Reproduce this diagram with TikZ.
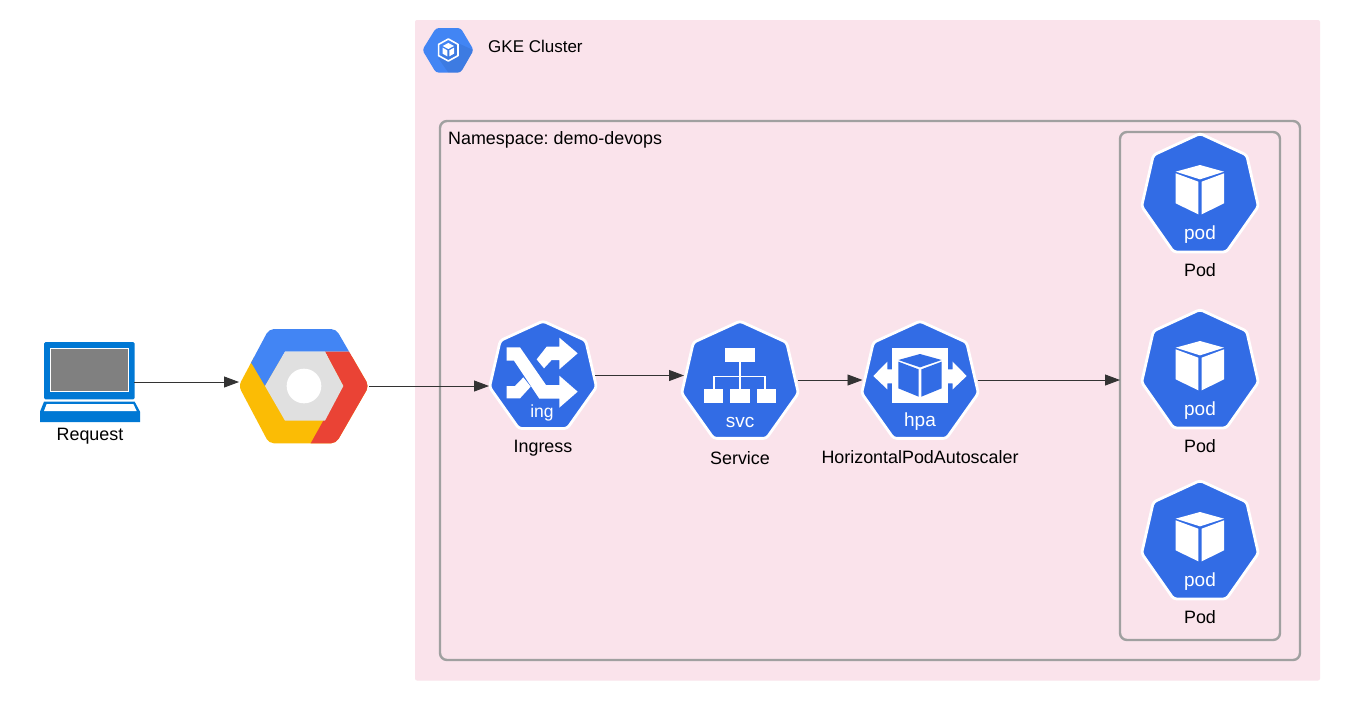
\documentclass[tikz,border=0pt]{standalone}
\usepackage{fontspec}
\setmainfont{Liberation Sans}
\usetikzlibrary{arrows.meta}
\definecolor{kube}{HTML}{326CE5}
\definecolor{clusterbg}{HTML}{FAE3EB}
\definecolor{framegray}{HTML}{A0A0A0}
\definecolor{gblue}{HTML}{4285F4}
\definecolor{gyellow}{HTML}{FBBC05}
\definecolor{gred}{HTML}{EA4335}
\definecolor{ggray}{HTML}{E0E0E0}
\definecolor{msblue}{HTML}{0078D4}
\definecolor{arrowdark}{HTML}{333333}
\tikzset{
  lbl/.style={font=\fontsize{17.9}{20}\selectfont\frenchspacing,text=black,inner sep=0pt},
  kubetxt/.style={font=\fontsize{19}{20}\selectfont,text=white,inner sep=0pt},
  frame/.style={draw=framegray,line width=2.4pt,rounded corners=7pt},
  flow/.style={draw=arrowdark,line width=0.9pt,-{Triangle[length=15pt,width=11pt]}},
  anchorbox/.style={inner sep=0pt,outer sep=0pt,minimum width=#1},
}
% heptagon: arg1 x, arg2 y (centre), arg3 xscale, arg4 yscale
\newcommand{\kubehept}[4]{%
  \filldraw[shift={(#1,#2)},xscale=#3,yscale=#4,fill=kube,draw=white,line width=2.8pt,line join=round,rounded corners=3pt]
    (0,-58) -- (46,-37) -- (57.5,13) -- (26,57.5) -- (-26,57.5) -- (-57.5,13) -- (-46,-37) -- cycle;}
% pod cube in zoom coordinates
\newcommand{\podicon}[3]{%
  \kubehept{1200}{#1}{1.015}{1.025}
  \begin{scope}[shift={(1110,#1-73)},scale=1/3,fill=white]
    \fill (197,155) -- (270,135) -- (342,155) -- (270,178) -- cycle;
    \fill (197,160) -- (265,185) -- (265,283) -- (197,250) -- cycle;
    \fill (275,185) -- (342,160) -- (342,250) -- (275,283) -- cycle;
  \end{scope}
  \node[kubetxt] at (1200,#1+41.5) {pod};
  \node[lbl] (#2) at (1200,#1+77) {Pod};
  \node[anchorbox=0pt,minimum height=0pt] (#3) at (1200,#1) {};
}
\begin{document}
\begin{tikzpicture}[x=1pt,y=-1pt]
\useasboundingbox (0,0) rectangle (1362,716);
\fill[white] (0,0) rectangle (1362,716);

% cluster
\fill[clusterbg,rounded corners=2pt] (415,20) rectangle (1320,680.5);
\draw[frame] (440,121) rectangle (1300,660);
\draw[frame] (1120,132) rectangle (1280,640);
\node[lbl,anchor=west,font=\fontsize{17}{20}\selectfont] (gkelabel) at (488,46.5) {GKE Cluster};
\node[lbl,anchor=west] (nslabel) at (448,140) {Namespace: demo-devops};

% GKE icon
\begin{scope}[shift={(410,15)},scale=1/3]
  \begin{scope}
    \clip[rounded corners=3pt] (78,39) -- (152,39) -- (191,105) -- (152,173) -- (78,173) -- (37,105) -- cycle;
    \fill[gblue] (30,30) rectangle (200,180);
    \fill[black,opacity=0.07] (135,80) -- (200,110) -- (200,180) -- (120,180) -- (85,130) -- cycle;
    \draw[white,line width=1.6pt,line join=round] (115,72) -- (144,88) -- (144,122) -- (115,138) -- (86,122) -- (86,88) -- cycle;
    \fill[white] (115,84) -- (132,93) -- (115,102) -- (98,93) -- cycle;
    \fill[white] (98,98) -- (112,106) -- (112,124) -- (98,116) -- cycle;
    \fill[white] (132,98) -- (118,106) -- (118,124) -- (132,116) -- cycle;
  \end{scope}
\end{scope}

% laptop
\node[anchorbox=100pt,minimum height=80pt] (request) at (90,382) {};
\begin{scope}[shift={(20,310)},scale=1/3]
  \fill[msblue,rounded corners=1.5pt] (72,96) rectangle (344,268);
  \fill[white] (90,113) rectangle (328,245);
  \fill[gray] (93,117) rectangle (325,242);
  \fill[msblue] (72,275) -- (344,275) -- (360,305) -- (360,336) -- (60,336) -- (60,305) -- cycle;
  \fill[white] (80,282) -- (340,282) -- (350,303) -- (72,303) -- cycle;
\end{scope}
\node[lbl] (requestlabel) at (90,436) {Request};

% Google Cloud logo
\node[anchorbox=130pt,minimum height=114pt] (gcp) at (304,386) {};
\begin{scope}[shift={(20,310)},scale=1/3]
  \begin{scope}
    \clip[rounded corners=5pt] (747,57) -- (948,57) -- (1047,228) -- (948,400) -- (747,400) -- (656,228) -- cycle;
    \fill[gyellow] (640,140) rectangle (1060,410);
    \fill[gblue] (695,160) -- (735,228) -- (795,125) -- (990,125) -- (1000,40) -- (730,40) -- (640,160) -- cycle;
    \fill[gred] (915,125) -- (990,125) -- (1060,228) -- (1060,410) -- (872,410) -- (872,400) -- (910,332) -- (970,228) -- cycle;
  \end{scope}
  \fill[ggray] (795,125) -- (915,125) -- (970,228) -- (915,332) -- (795,332) -- (735,228) -- cycle;
  \fill[white] (852,228) circle (52);
\end{scope}

% Ingress
\kubehept{543}{375}{0.93}{0.93}
\node[anchorbox=106pt,minimum height=108pt] (ing) at (542,375) {};
\begin{scope}[shift={(470,310)},scale=1/3,fill=white]
  \fill (110,112) -- (150,112) -- (228,225) -- (268,225) -- (268,197) -- (323,245) -- (268,293) -- (268,266) -- (208,266) -- (132,152) -- (110,152) -- cycle;
  \fill (323,130) -- (268,83) -- (268,110) -- (230,110) -- (200,148) -- (222,175) -- (245,150) -- (268,150) -- (268,178) -- cycle;
  \fill (110,228) -- (135,228) -- (160,202) -- (182,230) -- (150,265) -- (110,265) -- cycle;
\end{scope}
\node[kubetxt,font=\fontsize{17.5}{20}\selectfont] at (542,413) {ing};
\node[lbl] (inglabel) at (543,448) {Ingress};

% Service
\kubehept{740}{380}{1.015}{1.015}
\node[anchorbox=114pt,minimum height=116pt] (svc) at (741,380) {};
\fill[white] (725,347.7) rectangle (755,362.3);
\fill[white] (704,389.3) rectangle (722.7,402.7);
\fill[white] (730,389.3) rectangle (750,402.7);
\fill[white] (757,389.3) rectangle (776,402.7);
\draw[white,line width=1.4pt] (740,362) -- (740,389.5);
\draw[white,line width=1.4pt] (714,389.5) -- (714,376.7) -- (765,376.7) -- (765,389.5);
\node[kubetxt] at (740,422) {svc};
\node[lbl] (svclabel) at (740,458.5) {Service};

% HPA
\kubehept{920}{380}{1.015}{1.015}
\node[anchorbox=115pt,minimum height=116pt] (hpa) at (920,380) {};
\begin{scope}[shift={(810,310)},scale=1/3]
  \fill[white] (246,113) rectangle (414,278);
  \fill[kube] (265,150) -- (330,132) -- (395,150) -- (330,172) -- cycle;
  \fill[kube] (265,155) -- (326,178) -- (326,260) -- (265,235) -- cycle;
  \fill[kube] (334,178) -- (395,155) -- (395,235) -- (334,260) -- cycle;
  \fill[white] (190,198) -- (232,155) -- (232,178) -- (250,178) -- (250,220) -- (232,220) -- (232,238) -- cycle;
  \fill[white] (470,198) -- (428,155) -- (428,178) -- (410,178) -- (410,220) -- (428,220) -- (428,238) -- cycle;
\end{scope}
\node[kubetxt] at (920,422) {hpa};
\node[lbl] (hpalabel) at (920,457.5) {HorizontalPodAutoscaler};

% Pods
\podicon{193}{podlabela}{poda}
\podicon{369}{podlabelb}{podb}
\podicon{540}{podlabelc}{podc}
\node[inner sep=0pt,outer sep=0pt,minimum width=160pt,minimum height=508pt] (podgroup) at (1200,386) {};

% connectors
\draw[flow] (request.east |- 0,382) ++(-6,0) -- (gcp.west |- 0,382);
\draw[flow] (gcp.east) -- (ing.west |- gcp.east);
\draw[flow] ([yshift=-0.5pt]ing.east) -- ([yshift=-0.5pt]svc.west |- ing.east);
\draw[flow] (svc.east) -- (hpa.west);
\draw[flow] (hpa.east) -- (podgroup.west |- hpa.east);
\end{tikzpicture}
\end{document}
